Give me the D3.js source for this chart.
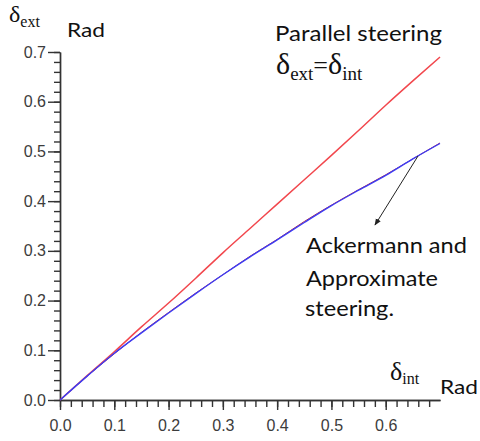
<!DOCTYPE html>
<html>
<head>
<meta charset="utf-8">
<script src="https://cdn.jsdelivr.net/npm/d3@7"></script>
<style>
  body { margin: 0; background: #fff; }
  svg { display: block; }
</style>
</head>
<body>
<div id="chart"></div>
<script>
// values (radians)
const deltaInt = [0, 0.05, 0.10, 0.15, 0.20, 0.25, 0.30, 0.35, 0.40, 0.45, 0.50, 0.55, 0.60, 0.65, 0.70];
const parallelExt = [0, 0.049, 0.097, 0.147, 0.195, 0.245, 0.296, 0.345, 0.394, 0.443, 0.492, 0.542, 0.593, 0.642, 0.690];
const approxExt = [0, 0.048, 0.093, 0.136, 0.176, 0.215, 0.252, 0.289, 0.323, 0.359, 0.392, 0.423, 0.453, 0.485, 0.517];
const ackermannExt = [0, 0.048, 0.094, 0.135, 0.175, 0.214, 0.252, 0.288, 0.322, 0.357, 0.391, 0.422, 0.452, 0.485, 0.516];

const xTicks = [0, 0.1, 0.2, 0.3, 0.4, 0.5, 0.6];
const yTicks = [0, 0.1, 0.2, 0.3, 0.4, 0.5, 0.6, 0.7];

const width = 480;
const height = 441;

const svg = d3.select('#chart')
  .append('svg')
  .attr('width', width)
  .attr('height', height);

const x = d3.scaleLinear().domain([0, 0.7]).range([60, 440]);
const y = d3.scaleLinear().domain([0, 0.7]).range([400, 52]);

const xMinor = d3.range(0, 0.69, 0.02);
const yMinor = d3.range(0, 0.71, 0.02);

// minor ticks
svg.append('g')
  .attr('class', 'axis')
  .attr('transform', 'translate(60,0)')
  .call(d3.axisLeft(y).tickValues(yMinor).tickSize(6).tickSizeOuter(0).tickFormat(''));

svg.append('g')
  .attr('class', 'axis')
  .attr('transform', 'translate(0,400)')
  .call(d3.axisBottom(x).tickValues(xMinor).tickSize(7).tickSizeOuter(0).tickFormat(''));

// major ticks + labels
svg.append('g')
  .attr('class', 'axis major')
  .attr('transform', 'translate(60,0)')
  .call(d3.axisLeft(y).tickValues(yTicks).tickSize(12).tickSizeOuter(0).tickPadding(2).tickFormat(d3.format('.1f')));

svg.append('g')
  .attr('class', 'axis major')
  .attr('transform', 'translate(0,400)')
  .call(d3.axisBottom(x).tickValues(xTicks).tickSize(10).tickSizeOuter(0).tickPadding(10).tickFormat(d3.format('.1f')));

svg.selectAll('.axis path, .axis line')
  .attr('stroke', '#333')
  .attr('stroke-width', 1.4);

svg.selectAll('.axis text')
  .attr('font-family', 'Liberation Sans, Arial, sans-serif')
  .attr('font-size', 16)
  .attr('fill', '#3c3c3c');

// curves
const line = vals => d3.line()
  .x((d, i) => x(deltaInt[i]))
  .y(d => y(d))
  .curve(d3.curveMonotoneX)(vals);

svg.append('path')
  .attr('d', line(parallelExt))
  .attr('fill', 'none')
  .attr('stroke', '#f2474d')
  .attr('stroke-width', 1.5);

svg.append('path')
  .attr('d', line(approxExt))
  .attr('fill', 'none')
  .attr('stroke', '#b0203c')
  .attr('stroke-width', 1);

svg.append('path')
  .attr('d', line(ackermannExt))
  .attr('fill', 'none')
  .attr('stroke', '#3c3cf5')
  .attr('stroke-width', 1.4);

// arrow
svg.append('defs').append('marker')
  .attr('id', 'head')
  .attr('viewBox', '0 0 10 10')
  .attr('refX', 9)
  .attr('refY', 5)
  .attr('markerWidth', 7)
  .attr('markerHeight', 7)
  .attr('orient', 'auto')
  .append('path')
  .attr('d', 'M0,1 L10,5 L0,9 Z')
  .attr('fill', '#222');

svg.append('line')
  .attr('x1', 418).attr('y1', 156)
  .attr('x2', 375).attr('y2', 225)
  .attr('stroke', '#222')
  .attr('stroke-width', 1)
  .attr('marker-end', 'url(#head)');

// labels
const sans = 'Lato, Open Sans, sans-serif';
const serif = 'Liberation Serif, Times New Roman, serif';

function label(txt, lx, ly, len, size) {
  svg.append('text')
    .attr('x', lx).attr('y', ly)
    .attr('font-family', sans)
    .attr('font-size', size)
    .attr('fill', '#111')
    .attr('textLength', len)
    .attr('lengthAdjust', 'spacingAndGlyphs')
    .text(txt);
}

label('Rad', 67, 37, 38, 20);
label('Parallel steering', 275, 41, 167, 21);
label('Ackermann and', 306, 253, 161, 22);
label('Approximate', 306, 286, 132, 22);
label('steering.', 305, 316, 89, 22);
label('Rad', 440, 394, 38, 20);

function delta(sub, lx, ly, big, small, drop) {
  const t = svg.append('text')
    .attr('x', lx).attr('y', ly)
    .attr('font-family', serif)
    .attr('fill', '#111');
  t.append('tspan').attr('font-size', big).text('δ');
  t.append('tspan').attr('font-size', small).attr('dy', drop).text(sub);
  return t;
}

delta('ext', 9, 22, 24, 16, 5);
delta('int', 390, 380, 26, 16, 4);

const eq = svg.append('text')
  .attr('x', 276).attr('y', 74)
  .attr('font-family', serif)
  .attr('fill', '#111');
eq.append('tspan').attr('font-size', 30).text('δ');
eq.append('tspan').attr('font-size', 19).attr('dy', 6).text('ext');
eq.append('tspan').attr('font-size', 26).attr('dy', -6).text('=');
eq.append('tspan').attr('font-size', 30).text('δ');
eq.append('tspan').attr('font-size', 19).attr('dy', 6).text('int');
</script>
</body>
</html>
